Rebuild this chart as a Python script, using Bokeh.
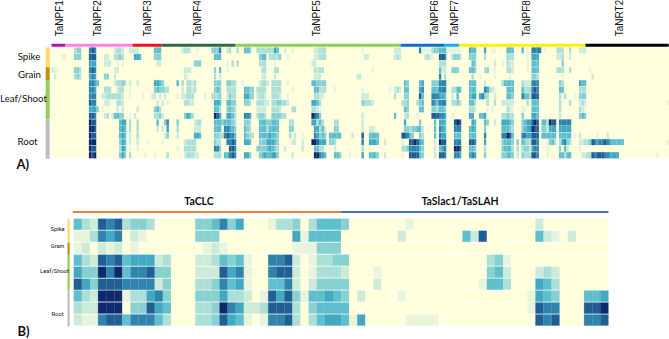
from bokeh.plotting import figure
from bokeh.models import ColumnDataSource
from bokeh.core.properties import value
from bokeh.embed import file_html
from bokeh.resources import INLINE
import math

# Expression levels (0 = none ... 9 = highest) written "first column:levels"
panel_a_rows = [
 "9:344 15:787 25:2332 31:2222 41:555 52:2332 58:1 64:444 67:7 70:23 74:3 77:554 82:3333 86:333 89:65 93:2 96:1 105:22 107:333 124:1 137:222 147:7 148:1111 152:344 155:555 158:11 160:1111 167:655 173:6 176:11 182:555 188:5 190:1 192:7777 197:1 202:333 207:3 211:222",
 "4:11 9:444 15:888 21:22 25:3343 33:665 41:444 65:555 83:455 87:33334 94:1 105:22 107:333 125:2 126:2 137:232 149:232 152:1 155:887 160:3443 167:444 173:3 182:333 190:1 192:666 202:22 204:3 207:2",
 "15:666 21:222 26:1 28:1 42:22 57:444 70:1 72:3 74:3 83:333 89:1 104:22 155:333 168:54 177:2 180:1 182:322 190:1 192:555 204:4",
 "0:211 9:443 15:787 25:22 53:222 65:4 67:5 70:1 84:33 89:33 105:3233 128:1 155:5 156:22 160:444 167:554 173:34 177:1 182:332 190:1 192:555 202:333 207:3 215:1",
 "1:2 9:343 15:676 21:44 25:2 53:21 65:3 67:2 84:22 89:2 105:222 122:22 155:7 157:3 168:3 171:1 177:1 183:1 192:443 204:1 216:2",
 "15:7765 25:23343 31:2 34:2 41:6654 50:5 52:3 54:3323 65:444 70:4433 76:1 83:2332 88:3333 94:1 104:554444 141:54 147:56 152:444 155:777 167:555 173:2 180:35555 188:3222 192:777 203:43 211:655",
 "15:776 21:333 26:233 31:1 41:454433 52:2 54:3323 65:454 70:3333 77:5544 82:3333 88:3333 96:1 105:55333 113:1 124:1 135:1 137:232 141:55 147:67 152:555 155:777 160:33 162:55 167:555 173:76321 182:555 188:5333 192:787 203:55 211:333",
 "15:777 20:223333332 31:1 36:1 40:22 43:2 45:2 50:1 52:22333 61:1 64:3334 70:2433 77:6644 82:2332 88:3332 94:1 105:3322 124:22 126:2 137:3 141:44 147:8 148:5 152:777 155:665 160:2 162:5 167:566 171:6743 177:2 182:554 188:7553 192:888 203:3 205:3 209:1 211:444",
 "15:877 21:221 26:332 42:2 44:2 46:1 53:3322 65:665 70:5544 77:443 82:33322 88:3344332 104:6653 124:43332 140:334 146:345 152:765 155:777 160:3343 167:553 174:3 177:3 180:22222 190:3 192:555 203:3 207:3 211:232 246:1",
 "15:6664 20:1 26:2 28:2 34:2 41:453 65:553 70:4543 82:2222 88:3332 96:33 104:3321 141:54 147:55 152:443 155:554 167:332 174:1 176:1 182:321 188:11 192:555 203:3 211:321",
 "15:887 21:23 24:25544 31:1 33:2 41:3342 53:4653 65:986 70:6653 77:776 82:3443 88:444433 104:9874 124:2 137:5 141:23 146:1 152:888 155:776 160:1 167:66 171:556 180:33433 188:4 192:665 203:2 211:454",
 "15:988 27:566 31:3 34:3 42:5 45:47 50:4 57:233 65:5554 69:55543 77:443 83:55544555 95:33 104:66353 113:33 124:2 141:6 147:4 153:5 155:665 161:898 168:65 173:54 177:2 180:66654 188:4566 192:898 196:553 199:988 203:77777",
 "15:998 27:565 31:3 34:3 42:2 44:2 46:6 50:3 57:222 65:555 69:77654 77:543 83:55535555 95:44 105:66352 113:44 124:2 127:221 141:44344552 153:5 155:765 161:777 167:565 173:4 180:55543 188:4566 192:988 196:442 199:666 203:66666",
 "15:988 27:565 31:2 34:3 45:24 50:2 57:665 65:4433 69:78775 77:5433 83:55556554 95:3 97:2 100:1 105:76454 111:55555 120:2 124:8 127:5555 140:887 143:54 147:43 153:5 155:766 161:555 167:555 173:7 180:77985 188:7766 192:888 196:555 199:555 203:55555 209:1 211:2 218:1 222:2",
 "15:999 27:465 31:2 34:2 38:1 44:1 53:23333 65:433 70:7787 77:665 83:44466654 96:22 100:2 104:998666 111:443 124:7 127:6665 133:2 140:1 143:889865 153:2 155:988 161:777 167:887 173:6 180:45554 186:4 188:5433 192:887 198:1 199:453 203:36743 211:223344 216:8767787655555 246:1",
 "15:988 27:365 31:1 34:1 50:1 53:33333 65:774 71:887 82:444456543 93:2 100:2 105:5533 113:2 124:3 140:334 143:777754 153:2 155:567 161:998 167:554 173:3 180:45553 186:3 188:3442 192:677 198:1 203:4 205:52 211:1",
 "15:989 27:464 31:3 37:1 41:1 46:3 53:233322 65:333 69:55787 77:664 83:45655664 96:2 105:99765 113:554 119:1 124:6 127:5554 133:2 140:1 143:888854 153:2 155:887 161:776 167:676 173:4 180:44554 186:2 188:4333 192:887 198:1 203:55355 212:22 214:334 216:87888776666 242:1",
]
panel_b_rows = [
 "0:5328783443 15:445746 24:1334 29:35555 33:4 41:1 57:2",
 "0:113767 7:21 15:444 27:61 29:5555 40:2 48:528 57:5210 61:2",
 "0:12 3:212 7:1 16:121 27:111 30:443 32:4",
 "0:532878566623 15:223545 21:1 24:7782 29:13344 51:341",
 "0:644979 6:5778 10:44 15:222867 21:1 24:7882 29:13333 33:2 37:1 51:452 57:232",
 "0:86488 5:8 6:7777 10:24 15:334756 21:1 24:5572 29:24444 37:2 50:1553 57:653",
 "0:532999133674 15:4446332 23:1868 27:41 29:55656 33:4 35:2 40:1 56:1654 63:556",
 "0:322 3:999 7:44865 15:334976 21:223 24:8883 29:45555 56:1877 63:889",
 "0:211788 6:577753 15:334865 21:1 23:1778 27:3 29:35666 33:516 41:111 44:1 57:878 63:778",
]
panel_a_groups = ["TaNPF1", "TaNPF2", "TaNPF3", "TaNPF4", "TaNPF5", "TaNPF6", "TaNPF7", "TaNPF8", "TaNRT2"]
panel_a_group_ends = [5.6, 32.4, 44, 73.6, 139.6, 157, 163, 213.6, 246.9]
panel_a_label_cols = [3.2, 18.4, 38.4, 58.4, 106, 153.2, 161.2, 190, 227.2]
panel_b_groups = ["TaCLC", "TaSlac1/TaSLAH"]
panel_b_group_ends = [33, 66]
tissues = ["Spike", "Grain", "Leaf/Shoot", "Root"]
panel_a_tissue_rows = [3, 2, 6, 6]
panel_b_tissue_rows = [2, 1, 3, 3]

level_colors = ["#FFFFDC", "#E8F5DC", "#CDEBD9", "#ACDFD5", "#88D1D1", "#5FBFCC",
                "#41A9C2", "#2E84AC", "#1F5F93", "#0E2A6C"]
group_colors_a = ["#B010B0", "#FF80E8", "#F01020", "#2E6B40", "#8FD14F", "#0F6FC6", "#10B0F0", "#FFF200", "#000000"]
group_colors_b = ["#ED7D31", "#4472C4"]
tissue_colors = ["#FFD966", "#BF9000", "#92D050", "#BFBFBF"]


def parse(rows, ncols):
    grid = []
    for r in rows:
        line = [0] * ncols
        for tok in r.split():
            s, lv = tok.split(":")
            for i, ch in enumerate(lv):
                if int(s) + i < ncols:
                    line[int(s) + i] = int(ch)
        grid.append(line)
    return grid


grid_a = parse(panel_a_rows, 247)
grid_b = parse(panel_b_rows, 66)

W, H = 669, 339
p = figure(width=W, height=H, x_range=(0, W), y_range=(H, 0), toolbar_location=None,
           output_backend="svg", min_border=0, outline_line_color=None)
p.xaxis.visible = False
p.yaxis.visible = False
p.grid.visible = False
p.background_fill_color = "white"
p.border_fill_color = "white"


def heat(grid, x0, dx, y0, dy, h):
    d = dict(l=[], r=[], t=[], b=[], c=[])
    for ri, line in enumerate(grid):
        for ci, v in enumerate(line):
            d["l"].append(x0 + ci * dx)
            d["r"].append(x0 + (ci + 1) * dx)
            d["t"].append(y0 + ri * dy)
            d["b"].append(y0 + ri * dy + h)
            d["c"].append(level_colors[v])
    p.quad(left="l", right="r", top="t", bottom="b", fill_color="c", line_color="c",
           line_width=0.2, source=ColumnDataSource(d))


AX, AD, AY, AP, AH = 51.0, 2.5, 47.0, 6.55, 5.85
BX, BD, BY, BP, BH = 73.3, 8.1, 218.3, 11.97, 11.0
heat(grid_a, AX, AD, AY, AP, AH)
heat(grid_b, BX, BD, BY, BP, BH)

DARK = "#111111"

# group rules and labels
start = 0
for name, end, c, lc in zip(panel_a_groups, panel_a_group_ends, group_colors_a, panel_a_label_cols):
    p.segment([AX + start * AD], [44.7], [AX + end * AD], [44.7], line_color=c, line_width=3)
    p.text([AX + lc * AD], [35.8], text=[name], angle=math.pi / 2, text_align="left", text_baseline="middle",
           text_font=value("Liberation Sans"), text_font_size="10px", text_color=DARK)
    start = end

start = 0
for name, end, c, tx in zip(panel_b_groups, panel_b_group_ends, group_colors_b, [198.5, 459.5]):
    p.segment([BX + start * BD - (1 if start == 0 else 0)], [211.5], [BX + end * BD], [211.5], line_color=c, line_width=2.2)
    p.text([tx], [200.5], text=[name], text_align="center", text_baseline="middle",
           text_font=value("Lato"), text_font_size="10.5px", text_font_style="bold", text_color=DARK)
    start = end


def tissue_bars(counts, x, y0, pitch, gap, font, fs, label_x, label_y):
    n = 0
    for name, cnt, c, lx, ly in zip(tissues, counts, tissue_colors, label_x, label_y):
        top = y0 + n * pitch
        bot = y0 + (n + cnt) * pitch
        p.quad(left=[x], right=[x + gap], top=[top], bottom=[bot], fill_color=c, line_color=None)
        p.text([lx], [ly], text=[name], text_align="center", text_baseline="middle",
               text_font=value(font), text_font_size=fs, text_color=DARK)
        n += cnt


tissue_bars(panel_a_tissue_rows, 45.2, AY, AP, 4, "Lato", "9.7px", [28.5, 29, 23, 27], [55.7, 73, 97, 140.7])
tissue_bars(panel_b_tissue_rows, 67, BY, BP, 2.2, "Roboto", "5.8px", [57, 57, 54, 57], [228, 245, 270, 313])

p.text([16], [163], text=["A)"], text_align="left", text_baseline="middle", text_font=value("Lato"),
       text_font_size="13px", text_font_style="bold", text_color=DARK)
p.text([17], [330], text=["B)"], text_align="left", text_baseline="middle", text_font=value("Lato"),
       text_font_size="13px", text_font_style="bold", text_color=DARK)

open("out.html", "w").write(file_html(p, INLINE))
